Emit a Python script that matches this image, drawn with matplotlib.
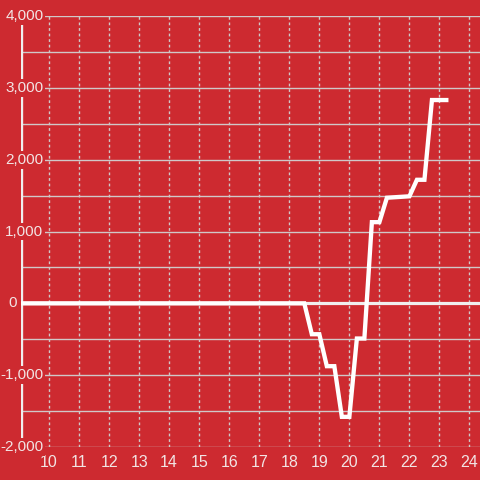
import matplotlib
matplotlib.use("Agg")
import matplotlib.pyplot as plt

BG = "#cd2a30"
FG = "#f2e4e4"
GRID = "#d0c8c8"

# hour of day vs value
hours = [9.0, 18.5, 18.75, 19.0, 19.25, 19.5, 19.75, 20.0, 20.25, 20.5,
         20.75, 21.0, 21.25, 22.0, 22.25, 22.5, 22.75, 23.3]
values = [0, 0, -430, -430, -875, -875, -1580, -1580, -490, -490,
          1130, 1130, 1470, 1490, 1720, 1720, 2830, 2830]

xticks = list(range(10, 25))
yticks = list(range(-2000, 4001, 1000))
ylabels = ["-2,000", "-1,000", "0", "1,000", "2,000", "3,000", "4,000"]

plt.rcParams["font.family"] = ["Liberation Sans", "DejaVu Sans"]

fig = plt.figure(figsize=(4.8, 4.8), dpi=100, facecolor=BG)
ax = fig.add_axes([20.5 / 480, 33 / 480, 1 - 20.5 / 480, (447 - 16) / 480])
ax.set_facecolor(BG)
ax.set_xlim(9.05, 24.35)
ax.set_ylim(-2000, 4000)

for s in ax.spines.values():
    s.set_visible(False)

# grid
for y in range(-2000, 4001, 500):
    ax.axhline(y, color=GRID, lw=1, zorder=1)
for x in xticks:
    ax.axvline(x, color=GRID, lw=1, ls=(0, (2, 2)), zorder=1)
ax.axhline(0, color="#f0eeee", lw=2.3, zorder=2)
ax.axvline(9.05, color="#f0eeee", lw=2.4, zorder=2)

ax.plot(hours, values, color="white", lw=3.1, zorder=3,
        solid_joinstyle="miter", solid_capstyle="butt")

ax.set_xticks(xticks)
ax.set_xticklabels([str(x) for x in xticks])
ax.tick_params(axis="x", length=0, pad=5.5, labelsize=11.5, labelcolor=FG)
ax.set_yticks([])

for v, lab in zip(yticks, ylabels):
    off = -4 if lab == "0" else 23
    ax.annotate(lab, xy=(0, v), xycoords=("axes fraction", "data"),
                xytext=(off, 0), textcoords="offset pixels",
                ha="right", va="center", fontsize=11, color=FG, zorder=5,
                annotation_clip=False,
                bbox=dict(boxstyle="square,pad=0.12", fc=BG, ec="none"))

fig.savefig("out.png", dpi=100, facecolor=BG)
